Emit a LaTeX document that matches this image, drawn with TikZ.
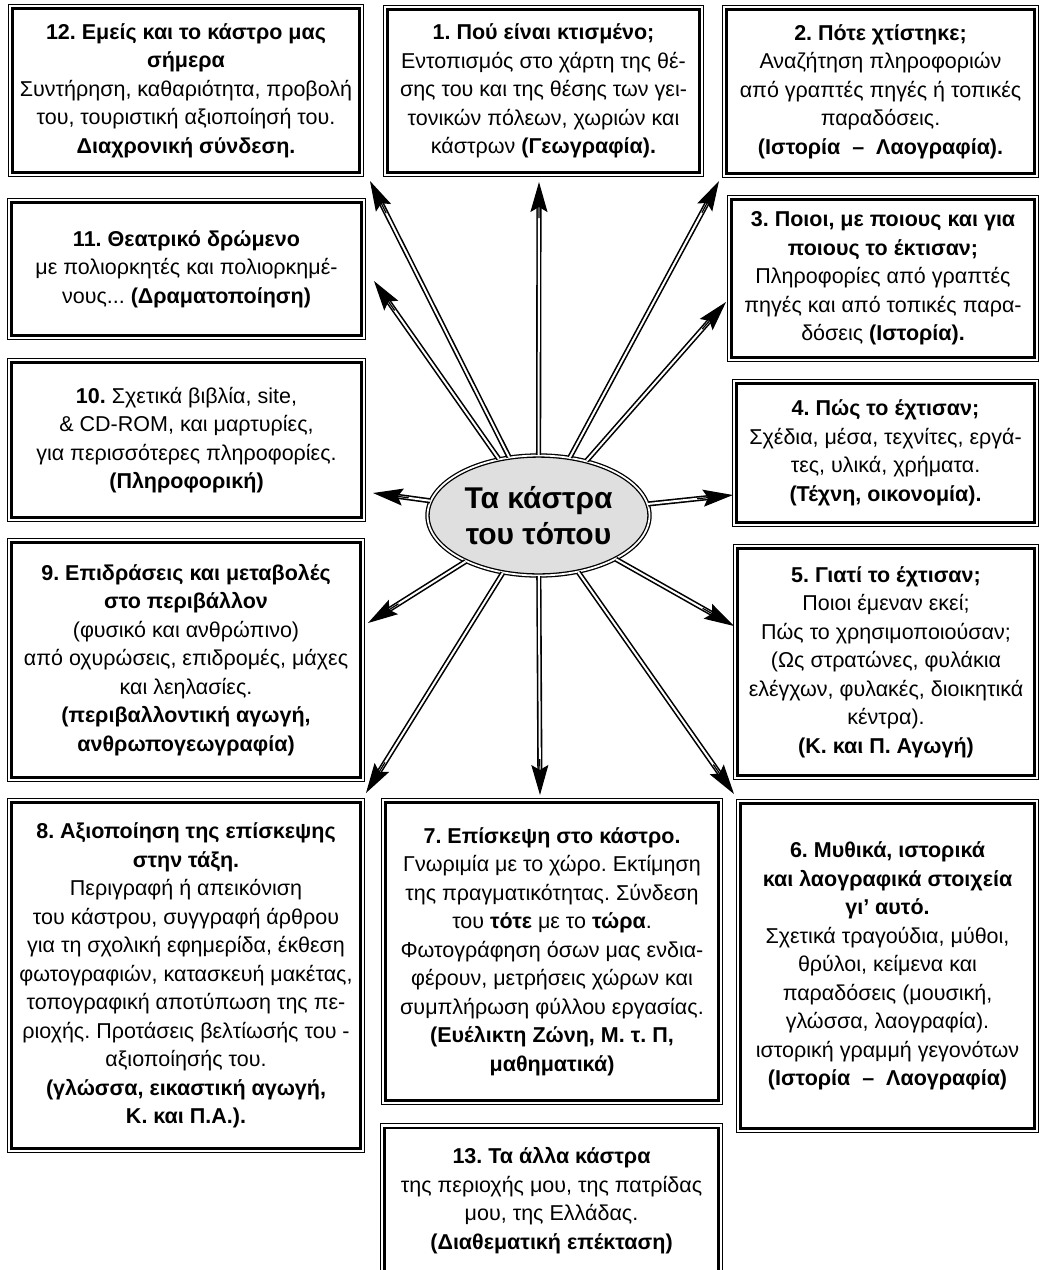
\documentclass[tikz,border=0pt]{standalone}
\usepackage{fontspec}
\setmainfont{Liberation Sans}
\usetikzlibrary{arrows.meta,calc,shapes.geometric}
\newcommand{\panelfont}{\fontsize{21.5}{28.5}\selectfont}
\frenchspacing

\begin{document}
\begin{tikzpicture}[x=1pt, y=-1pt]
  \tikzstyle{panel} = [draw, line width=2.2pt, fill=white, align=center, inner sep=0pt, font=\panelfont,
    preaction={draw, line width=9pt}, preaction={draw=white, line width=6.4pt}]
  \tikzstyle{hub} = [ellipse, draw, double, line width=1.3pt, double distance=1.8pt, fill=gray!25,
    inner sep=0pt, minimum width=222pt, minimum height=120pt, align=center,
    font=\fontsize{30}{36}\selectfont\bfseries]
  \tikzstyle{shaft} = [draw, double, line width=1.6pt, double distance=2pt, shorten >=18pt]
  \tikzstyle{head} = [line width=1.2pt, -{Stealth[length=30pt, width=17pt, inset=5pt]}]
  \useasboundingbox (0,0) rectangle (1043,1270);

  % left column
  \node[panel, minimum width=347pt, minimum height=164pt] (b12) at (186,90.5)
    {\textbf{12. Εμείς και το κάστρο μας}\\ \textbf{σήμερα}\\ Συντήρηση, καθαριότητα, προβολή\\
     του, τουριστική αξιοποίησή του.\\ \textbf{Διαχρονική σύνδεση.}};
  \node[panel, minimum width=350pt, minimum height=133pt] (b11) at (186.5,269)
    {\textbf{11. Θεατρικό δρώμενο}\\ με πολιορκητές και πολιορκημέ-\\ νους... \textbf{(Δραματοποίηση)}};
  \node[panel, minimum width=350pt, minimum height=155pt] (b10) at (186.5,440)
    {\textbf{10.} Σχετικά βιβλία, site,\\ \& CD-ROM, και μαρτυρίες,\\ για περισσότερες πληροφορίες.\\
     \textbf{(Πληροφορική)}};
  \node[panel, minimum width=349pt, minimum height=235pt] (b9) at (186,660)
    {\textbf{9. Επιδράσεις και μεταβολές}\\ \textbf{στο περιβάλλον}\\ (φυσικό και ανθρώπινο)\\
     από οχυρώσεις, επιδρομές, μάχες\\ και λεηλασίες.\\ \textbf{(περιβαλλοντική αγωγή,}\\
     \textbf{ανθρωπογεωγραφία)}};
  \node[panel, minimum width=349pt, minimum height=346pt] (b8) at (186,975.5)
    {\textbf{8. Αξιοποίηση της επίσκεψης}\\ \textbf{στην τάξη.}\\ Περιγραφή ή απεικόνιση\\
     του κάστρου, συγγραφή άρθρου\\ για τη σχολική εφημερίδα, έκθεση\\ φωτογραφιών, κατασκευή μακέτας,\\
     τοπογραφική αποτύπωση της πε-\\ ριοχής. Προτάσεις βελτίωσής του -\\ αξιοποίησής του.\\
     \textbf{(γλώσσα, εικαστική αγωγή,}\\ \textbf{Κ. και Π.Α.).}};

  % middle column
  \node[panel, minimum width=312pt, minimum height=163pt] (b1) at (543.5,91)
    {\textbf{1. Πού είναι κτισμένο;}\\ Εντοπισμός στο χάρτη της θέ-\\ σης του και της θέσης των γει-\\
     τονικών πόλεων, χωριών και\\ κάστρων \textbf{(Γεωγραφία).}};
  \node[hub] (ell) at (538.5,515.5) {Τα κάστρα\\ του τόπου};
  \node[panel, minimum width=333pt, minimum height=298pt] (b7) at (552,951.5)
    {\textbf{7. Επίσκεψη στο κάστρο.}\\ Γνωριμία με το χώρο. Εκτίμηση\\ της πραγματικότητας. Σύνδεση\\
     του \textbf{τότε} με το \textbf{τώρα}.\\ Φωτογράφηση όσων μας ενδια-\\ φέρουν, μετρήσεις χώρων και\\
     συμπλήρωση φύλλου εργασίας.\\ \textbf{(Ευέλικτη Ζώνη, Μ. τ. Π,}\\ \textbf{μαθηματικά)}};
  \node[panel, anchor=north, minimum width=334pt, inner ysep=20pt, text depth=160pt] (b13) at (551.5,1126.5)
    {\textbf{13. Τα άλλα κάστρα}\\ της περιοχής μου, της πατρίδας\\ μου, της Ελλάδας.\\
     \textbf{(Διαθεματική επέκταση)}};

  % right column
  \node[panel, minimum width=308pt, minimum height=164pt] (b2) at (880.5,91.5)
    {\textbf{2. Πότε χτίστηκε;}\\ Αναζήτηση πληροφοριών\\ από γραπτές πηγές ή τοπικές\\ παραδόσεις.\\
     \textbf{(Ιστορία~~–~~Λαογραφία).}};
  \node[panel, minimum width=303pt, minimum height=158pt] (b3) at (883,278.5)
    {\textbf{3. Ποιοι, με ποιους και για}\\ \textbf{ποιους το έκτισαν;}\\ Πληροφορίες από γραπτές\\
     πηγές και από τοπικές παρα-\\ δόσεις \textbf{(Ιστορία).}};
  \node[panel, minimum width=298pt, minimum height=139pt] (b4) at (885.5,453)
    {\textbf{4. Πώς το έχτισαν;}\\ Σχέδια, μέσα, τεχνίτες, εργά-\\ τες, υλικά, χρήματα.\\
     \textbf{(Τέχνη, οικονομία).}};
  \node[panel, minimum width=297pt, minimum height=227pt] (b5) at (886,662)
    {\textbf{5. Γιατί το έχτισαν;}\\ Ποιοι έμεναν εκεί;\\ Πώς το χρησιμοποιούσαν;\\
     (Ως στρατώνες, φυλάκια\\ ελέγχων, φυλακές, διοικητικά\\ κέντρα).\\ \textbf{(Κ. και Π. Αγωγή)}};
  \node[panel, minimum width=294pt, minimum height=325pt] (b6) at (887.5,966)
    {\textbf{6. Μυθικά, ιστορικά}\\ \textbf{και λαογραφικά στοιχεία}\\ \textbf{γι’ αυτό.}\\
     Σχετικά τραγούδια, μύθοι,\\ θρύλοι, κείμενα και\\ παραδόσεις (μουσική,\\ γλώσσα, λαογραφία).\\
     ιστορική γραμμή γεγονότων\\ \textbf{(Ιστορία~~–~~Λαογραφία)}};

  % arrow tips next to the boxes
  \coordinate (t1) at (539,182);
  \coordinate (t2) at (719,181);
  \coordinate (t3) at (726,302);
  \coordinate (t4) at (733,495);
  \coordinate (t5) at (734,626);
  \coordinate (t6) at (734,794);
  \coordinate (t7) at (540,795);
  \coordinate (t8) at (366,793);
  \coordinate (t9) at (368,623);
  \coordinate (t10) at (373,493);
  \coordinate (t11) at (374,281);
  \coordinate (t12) at (370,181);

  \foreach \t in {t1,t2,t3,t4,t5,t6,t7,t8,t9,t10,t11,t12} {
    \draw[shaft] (ell) -- (\t);
    \draw[head] ($(\t)!36pt!(ell)$) -- (\t);
  }
\end{tikzpicture}
\end{document}
